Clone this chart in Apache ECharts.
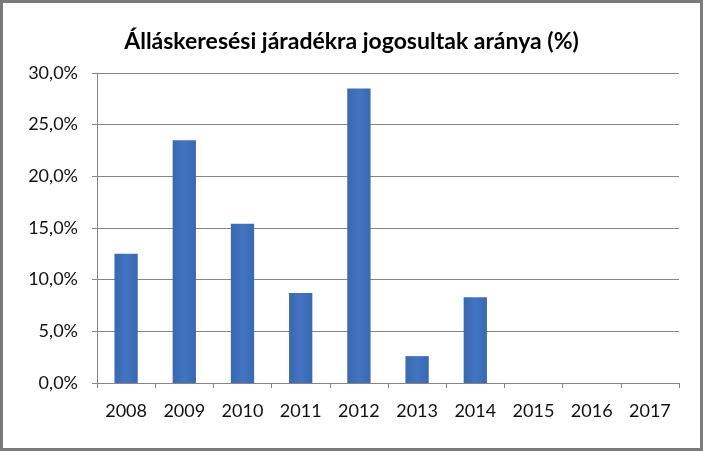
<!DOCTYPE html>
<html>
<head>
<meta charset="utf-8">
<script src="https://cdn.jsdelivr.net/npm/echarts@6/dist/echarts.min.js"></script>
<style>
  html, body { margin: 0; padding: 0; background: #fff; }
  #main-chart { width: 703px; height: 451px; box-sizing: border-box; border: 3px solid #7a7a7a; }
</style>
</head>
<body>
<div id="main-chart"></div>
<script>
// Évek és értékek (%)
const years = ['2008', '2009', '2010', '2011', '2012', '2013', '2014', '2015', '2016', '2017'];
const shares = [12.5, 23.5, 15.4, 8.7, 28.5, 2.6, 8.3, null, null, null];
const yTicks = [0, 5, 10, 15, 20, 25, 30];

const chartDom = document.getElementById('main-chart');
const myChart = echarts.init(chartDom);

const option = {
    animation: false,
    title: {
        text: 'Álláskeresési járadékra jogosultak aránya (%)',
        left: 'center',
        top: 22,
        textStyle: { fontFamily: 'Lato', fontSize: 23, fontWeight: 'bold', color: '#000' }
    },
    grid: { left: 94, right: 21, top: 70, bottom: 65 },
    xAxis: {
        type: 'category',
        data: years,
        axisLine: { lineStyle: { color: '#868686', width: 1 } },
        axisTick: { show: true, length: 5, lineStyle: { color: '#868686' } },
        axisLabel: { color: '#111', fontFamily: 'Lato', fontSize: 18, margin: 19 }
    },
    yAxis: {
        type: 'value',
        min: yTicks[0],
        max: yTicks[yTicks.length - 1],
        interval: 5,
        axisLine: { show: true, lineStyle: { color: '#868686' } },
        axisTick: { show: true, length: 5, lineStyle: { color: '#868686' } },
        splitLine: { lineStyle: { color: '#868686', width: 1 } },
        axisLabel: {
            color: '#111', fontFamily: 'Lato', fontSize: 18, margin: 19,
            formatter: v => v.toFixed(1).replace('.', ',') + '%'
        }
    },
    series: [
        {
            name: 'Arány',
            type: 'bar',
            data: shares,
            barWidth: '40%',
            itemStyle: {
                color: new echarts.graphic.LinearGradient(0, 0, 1, 0, [
                    { offset: 0, color: '#3a68b0' },
                    { offset: 0.5, color: '#4274c2' },
                    { offset: 1, color: '#3a68b0' }
                ])
            }
        }
    ]
};

myChart.setOption(option);
</script>
</body>
</html>
